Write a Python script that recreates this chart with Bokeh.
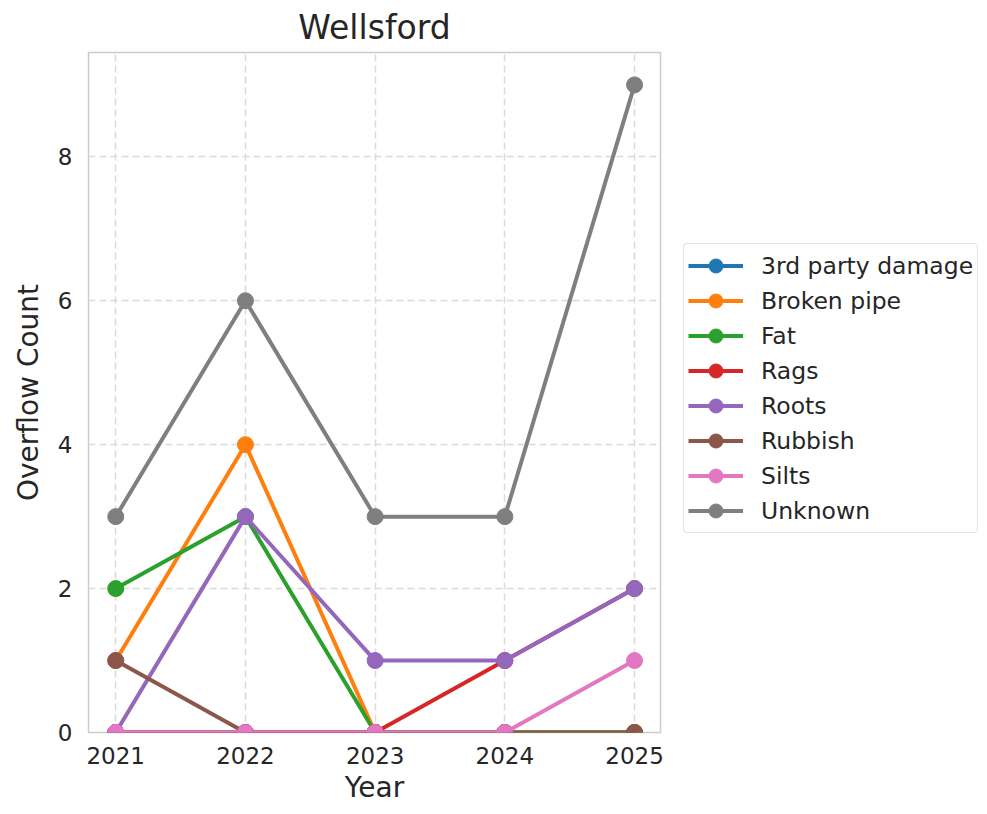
from bokeh.plotting import figure
from bokeh.layouts import row
from bokeh.models import Legend, LegendItem, Range1d, FixedTicker
from bokeh.embed import file_html
from bokeh.resources import INLINE

years = [2021, 2022, 2023, 2024, 2025]
third_party = [0, 0, 0, 0, 0]
broken_pipe = [1, 4, 0, 0, 0]
fat = [2, 3, 0, 0, 0]
rags = [0, 0, 0, 1, 2]
roots = [0, 3, 1, 1, 2]
rubbish = [1, 0, 0, 0, 0]
silts = [0, 0, 0, 0, 1]
unknown = [3, 6, 3, 3, 9]

series_names = ["3rd party damage", "Broken pipe", "Fat", "Rags", "Roots",
                "Rubbish", "Silts", "Unknown"]
series_values = [third_party, broken_pipe, fat, rags, roots, rubbish, silts, unknown]
colors = ["#1f77b4", "#ff7f0e", "#2ca02c", "#d62728", "#9467bd",
          "#8c564b", "#e377c2", "#7f7f7f"]

FONT = "DejaVu Sans"
TXT = "#262626"

H = 812
FL, FT, FR, FB = 88, 52, 660, 732
W1 = FR + 6
p = figure(width=W1, height=H, output_backend="svg", toolbar_location=None,
           x_range=Range1d(2020.79, 2025.2), y_range=Range1d(0, 9.45),
           min_border_left=FL, min_border_right=W1 - FR,
           min_border_top=FT, min_border_bottom=H - FB)

p.title.text = "Wellsford"
p.title.align = "center"
p.title.text_font = FONT
p.title.text_font_size = "33px"
p.title.text_font_style = "normal"
p.title.text_color = TXT
p.title.standoff = 11

p.outline_line_color = "#cccccc"
p.outline_line_width = 1.5
p.background_fill_color = "white"
p.border_fill_color = "white"

p.xaxis.ticker = FixedTicker(ticks=years)
p.yaxis.ticker = FixedTicker(ticks=[0, 2, 4, 6, 8])
for ax in (p.xaxis, p.yaxis):
    ax.axis_line_color = None
    ax.major_tick_line_color = None
    ax.minor_tick_line_color = None
    ax.major_tick_out = 0
    ax.major_tick_in = 0
    ax.major_label_text_font = FONT
    ax.major_label_text_font_size = "23px"
    ax.major_label_text_color = TXT
    ax.axis_label_text_font = FONT
    ax.axis_label_text_font_size = "28px"
    ax.axis_label_text_font_style = "normal"
    ax.axis_label_text_color = TXT
p.xaxis.axis_label = "Year"
p.yaxis.axis_label = "Overflow Count"
p.xaxis.major_label_standoff = 14
p.yaxis.major_label_standoff = 16
p.xaxis.axis_label_standoff = 4
p.yaxis.axis_label_standoff = 10

for g in (p.xgrid, p.ygrid):
    g.grid_line_color = "#dadada"
    g.grid_line_width = 1.5
    g.grid_line_dash = "7 4"

for name, vals, c in zip(series_names, series_values, colors):
    p.line(years, vals, line_color=c, line_width=4)
    p.scatter(years, vals, size=16, fill_color=c, line_color=c)

# separate legend panel (its renderers lie outside its view range)
W2 = 980 - W1
q = figure(width=W2, height=H, output_backend="svg", toolbar_location=None,
           x_axis_type=None, y_axis_type=None,
           x_range=Range1d(0, 1), y_range=Range1d(0, 1),
           min_border=0, outline_line_color=None)
q.background_fill_color = "white"
q.border_fill_color = "white"
items = []
for name, vals, c in zip(series_names, series_values, colors):
    l = q.line(years, vals, line_color=c, line_width=4)
    s = q.scatter(years, vals, size=16, fill_color=c, line_color=c)
    items.append(LegendItem(label=name, renderers=[l, s]))

legend = Legend(items=items, location=(683 - W1, FB - 533), orientation="vertical")
legend.label_text_font = FONT
legend.label_text_font_size = "23.5px"
legend.label_text_color = TXT
legend.glyph_width = 55
legend.glyph_height = 35
legend.label_height = 35
legend.label_standoff = 18
legend.spacing = 0
legend.padding = 4
legend.margin = 0
legend.border_line_color = "#cccccc"
legend.border_line_width = 1.2
legend.border_radius = 4
legend.background_fill_color = "white"
legend.background_fill_alpha = 1.0
q.add_layout(legend, "center")

layout = row(p, q, spacing=0)
open("out.html", "w").write(file_html(layout, INLINE))
